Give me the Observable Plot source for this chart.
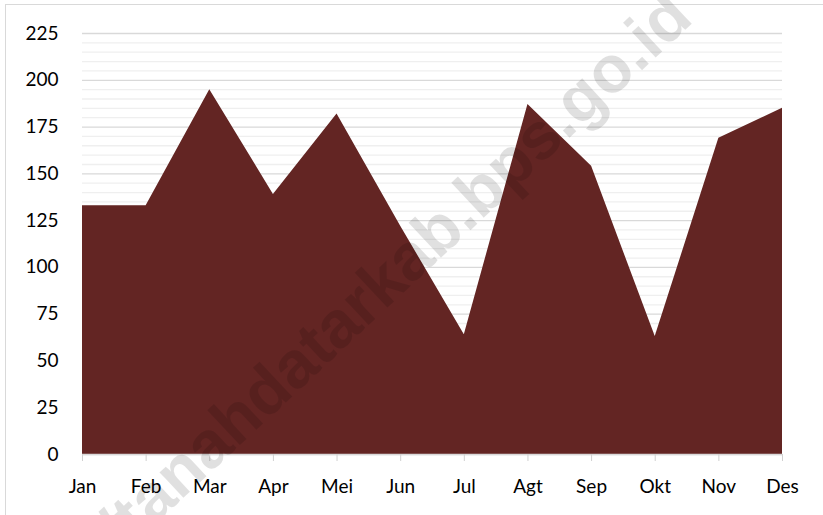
<!DOCTYPE html>
<html>
<head>
<meta charset="utf-8">
<script src="https://cdn.jsdelivr.net/npm/d3@7"></script>
<script src="https://cdn.jsdelivr.net/npm/@observablehq/plot@0.6"></script>
<style>
  html, body { margin: 0; padding: 0; background: #fff; }
  #wrap { position: relative; width: 823px; height: 515px; overflow: hidden; }
  #border { position: absolute; left: 5px; top: 4px; width: 830px; height: 530px; border: 1px solid #d9d9d9; box-sizing: border-box; pointer-events: none; }
  #wm { position: absolute; left: 320px; top: 339px; transform: translate(-50%, -50%) rotate(-43deg);
        font-family: "Liberation Sans", Arial, sans-serif; font-weight: bold; font-size: 66px; color: rgba(0,0,0,0.12);
        white-space: nowrap; pointer-events: none; }
</style>
</head>
<body>
<div id="wrap">
  <div id="chart"></div>
  <div id="border"></div>
  <div id="wm">https://tanahdatarkab.bps.go.id</div>
</div>
<script>
const months = ["Jan","Feb","Mar","Apr","Mei","Jun","Jul","Agt","Sep","Okt","Nov","Des"];
const values = [133, 133, 195, 139, 182, 122, 64, 187, 154, 63, 169, 185];
const majorTicks = [0, 25, 50, 75, 100, 125, 150, 175, 200, 225];
const minorTicks = d3.range(0, 226, 5).filter(v => v % 25 !== 0);

const data = months.map((m, i) => ({month: m, value: values[i]}));

const chart = Plot.plot({
  width: 823,
  height: 515,
  marginLeft: 82,
  marginRight: 41,
  marginTop: 33,
  marginBottom: 61,
  style: {fontFamily: "Lato, 'Open Sans', sans-serif", fontSize: "19px", color: "#000", background: "transparent"},
  x: {type: "point", domain: months, padding: 0, round: false, label: null},
  y: {domain: [0, 225], label: null},
  marks: [
    Plot.ruleY(minorTicks, {stroke: "#efefef", strokeWidth: 1.3}),
    Plot.ruleY(majorTicks, {stroke: "#d9d9d9", strokeWidth: 1.3}),
    Plot.areaY(data, {x: "month", y: "value", fill: "#632523", curve: "linear"}),
    Plot.ruleY([0], {stroke: "#d9d9d9", strokeWidth: 1.5}),
    Plot.axisX({tickSize: 7, tickPadding: 18, stroke: "#d0d0d0", fill: "#000", fontSize: 19}),
    Plot.axisY({ticks: majorTicks, tickSize: 0, tickPadding: 24, fill: "#000", fontSize: 19})
  ]
});
document.getElementById("chart").appendChild(chart);
</script>
</body>
</html>
